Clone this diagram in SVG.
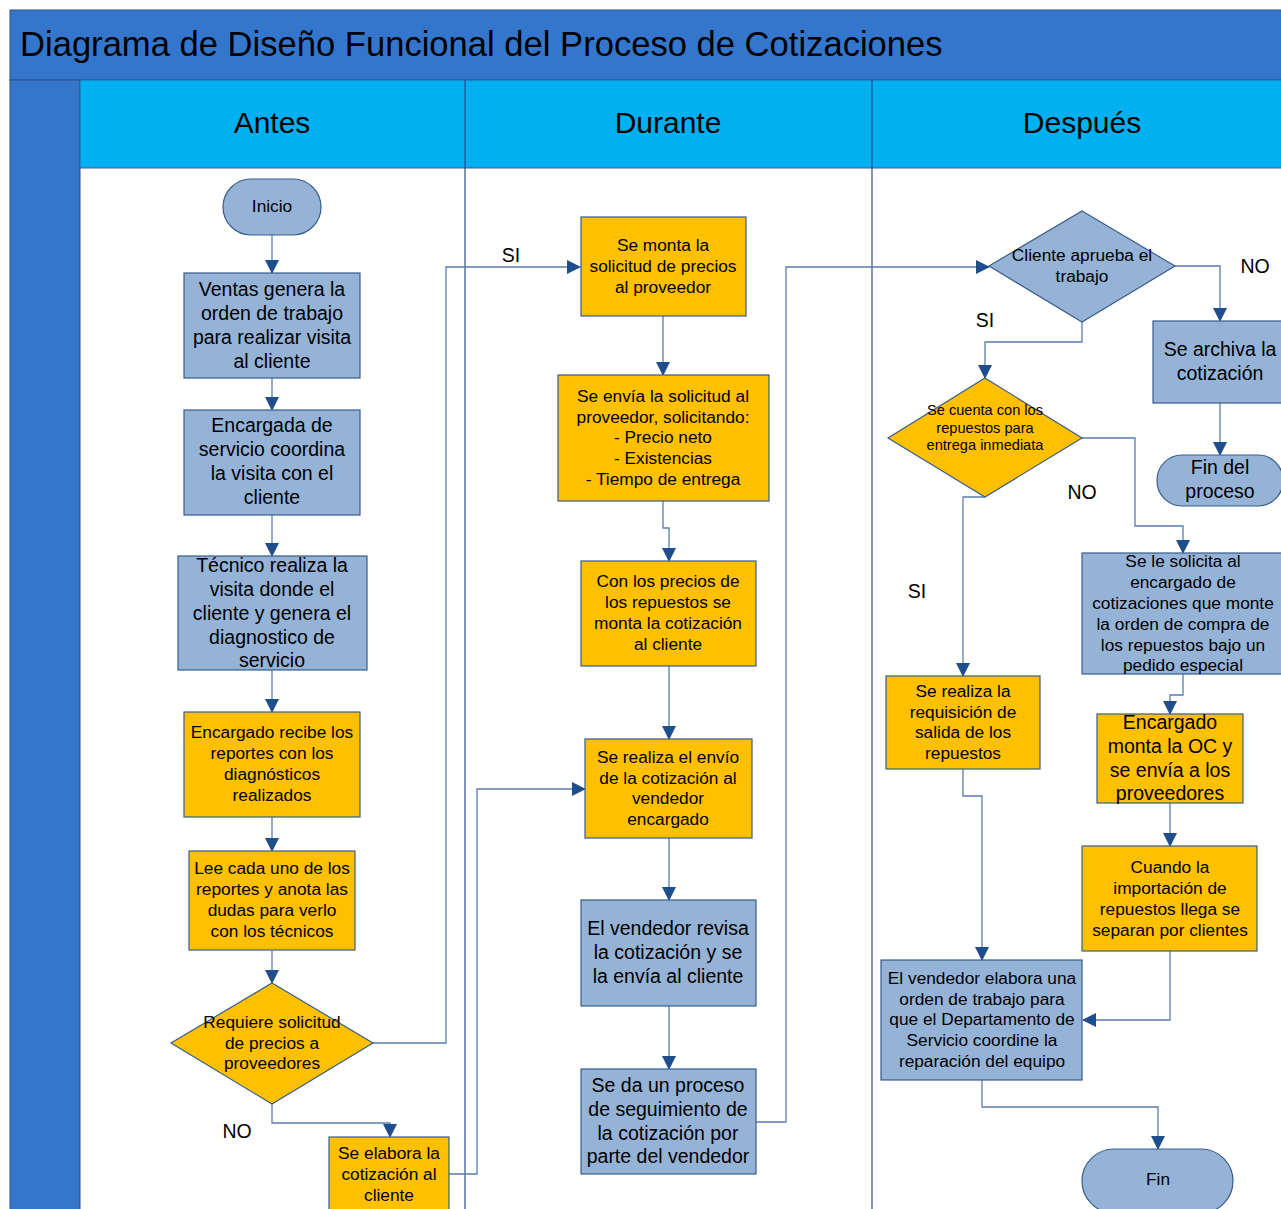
<svg xmlns="http://www.w3.org/2000/svg" width="1281" height="1209" viewBox="0 0 1281 1209">
<style>
text{font-family:"Liberation Sans",Arial,sans-serif;fill:#000;text-anchor:middle}
.t16{font-size:17.3px}.t18{font-size:19.5px}.t13{font-size:14.6px}
.blue{fill:#95b3d7;stroke:#385d8a;stroke-width:1.2}
.org{fill:#ffc000;stroke:#385d8a;stroke-width:1.2}
.c{fill:none;stroke:#5a7eb0;stroke-width:1.3}
.lbl{font-size:19.5px}
.hd{font-size:30px}
</style>
<defs>
<marker id="ah" markerUnits="userSpaceOnUse" markerWidth="14" markerHeight="14" viewBox="0 0 14 14" refX="13" refY="7" orient="auto">
<path d="M0,0 L14,7 L0,14 Z" fill="#1f4e8c"/>
</marker>
</defs>
<rect x="0" y="0" width="1281" height="1209" fill="#fff"/>
<g id="lanes">
<rect x="10" y="10" width="1275" height="70" fill="#3476cc" stroke="#2c4e8a" stroke-width="1"/>
<text x="20" y="56" style="font-size:34.6px;text-anchor:start">Diagrama de Diseño Funcional del Proceso de Cotizaciones</text>
<rect x="10" y="80" width="70" height="1135" fill="#3476cc" stroke="#2c4e8a" stroke-width="1"/>
<rect x="80" y="80" width="1205" height="88" fill="#00b0f0" stroke="#2f5f9a" stroke-width="1"/>
<line x1="465" y1="80" x2="465" y2="1209" stroke="#2c4e8a" stroke-width="1.2"/>
<line x1="872" y1="80" x2="872" y2="1209" stroke="#2c4e8a" stroke-width="1.2"/>
<text class="hd" x="272" y="133">Antes</text>
<text class="hd" x="668" y="133">Durante</text>
<text class="hd" x="1082" y="133">Después</text>
</g>
<g id="connectors">
<path class="c" d="M272,235 V273" marker-end="url(#ah)"/>
<path class="c" d="M272,378 V410" marker-end="url(#ah)"/>
<path class="c" d="M272,515 V556" marker-end="url(#ah)"/>
<path class="c" d="M272,670 V712" marker-end="url(#ah)"/>
<path class="c" d="M272,817 V851" marker-end="url(#ah)"/>
<path class="c" d="M272,950 V983" marker-end="url(#ah)"/>
<path class="c" d="M373,1043 H446 V267 H580" marker-end="url(#ah)"/>
<path class="c" d="M272,1104 V1123 H390 V1137" marker-end="url(#ah)"/>
<path class="c" d="M449,1174 H477 V789 H585" marker-end="url(#ah)"/>
<path class="c" d="M663,316 V375" marker-end="url(#ah)"/>
<path class="c" d="M663,501 V528 H669 V561" marker-end="url(#ah)"/>
<path class="c" d="M669,666 V739" marker-end="url(#ah)"/>
<path class="c" d="M669,838 V900" marker-end="url(#ah)"/>
<path class="c" d="M669,1006 V1069" marker-end="url(#ah)"/>
<path class="c" d="M756,1122 H786 V267 H989" marker-end="url(#ah)"/>
<path class="c" d="M1175,266 H1220 V321" marker-end="url(#ah)"/>
<path class="c" d="M1220,403 V455" marker-end="url(#ah)"/>
<path class="c" d="M1082,322 V342 H985 V378" marker-end="url(#ah)"/>
<path class="c" d="M1082,438 H1135 V526 H1183 V553" marker-end="url(#ah)"/>
<path class="c" d="M985,497 H963 V676" marker-end="url(#ah)"/>
<path class="c" d="M1183,674 V695 H1170 V714" marker-end="url(#ah)"/>
<path class="c" d="M1170,803 V846" marker-end="url(#ah)"/>
<path class="c" d="M1170,951 V1020 H1083" marker-end="url(#ah)"/>
<path class="c" d="M963,769 V796 H982 V960" marker-end="url(#ah)"/>
<path class="c" d="M982,1080 V1107 H1158 V1149" marker-end="url(#ah)"/>
<text class="lbl" x="511" y="262">SI</text>
<text class="lbl" x="237" y="1138">NO</text>
<text class="lbl" x="1255" y="273">NO</text>
<text class="lbl" x="985" y="327">SI</text>
<text class="lbl" x="1082" y="499">NO</text>
<text class="lbl" x="917" y="598">SI</text>
</g>
<g id="inicio"><rect class="blue" x="223" y="179" width="98" height="56" rx="28"/><text class="t16" x="272" y="212">Inicio</text></g>
<g id="ventas"><rect class="blue" x="184" y="273" width="176" height="105"/><text class="t18"><tspan x="272" y="296">Ventas genera la</tspan><tspan x="272" y="320">orden de trabajo</tspan><tspan x="272" y="344">para realizar visita</tspan><tspan x="272" y="368">al cliente</tspan></text></g>
<g id="encargada"><rect class="blue" x="184" y="410" width="176" height="105"/><text class="t18"><tspan x="272" y="432">Encargada de</tspan><tspan x="272" y="456">servicio coordina</tspan><tspan x="272" y="480">la visita con el</tspan><tspan x="272" y="504">cliente</tspan></text></g>
<g id="tecnico"><rect class="blue" x="178" y="556" width="189" height="114"/><text class="t18"><tspan x="272" y="572">Técnico realiza la</tspan><tspan x="272" y="596">visita donde el</tspan><tspan x="272" y="620">cliente y genera el</tspan><tspan x="272" y="644">diagnostico de</tspan><tspan x="272" y="667">servicio</tspan></text></g>
<g id="recibe"><rect class="org" x="184" y="712" width="176" height="105"/><text class="t16"><tspan x="272" y="738">Encargado recibe los</tspan><tspan x="272" y="759">reportes con los</tspan><tspan x="272" y="780">diagnósticos</tspan><tspan x="272" y="801">realizados</tspan></text></g>
<g id="lee"><rect class="org" x="189" y="851" width="166" height="99"/><text class="t16"><tspan x="272" y="874">Lee cada uno de los</tspan><tspan x="272" y="895">reportes y anota las</tspan><tspan x="272" y="916">dudas para verlo</tspan><tspan x="272" y="937">con los técnicos</tspan></text></g>
<g id="requiere"><path class="org" d="M272,983 L373,1043 L272,1104 L171,1043 Z"/><text class="t16"><tspan x="272" y="1028">Requiere solicitud</tspan><tspan x="272" y="1049">de precios a</tspan><tspan x="272" y="1069">proveedores</tspan></text></g>
<g id="elabora"><rect class="org" x="329" y="1137" width="120" height="80"/><text class="t16"><tspan x="389" y="1159">Se elabora la</tspan><tspan x="389" y="1180">cotización al</tspan><tspan x="389" y="1201">cliente</tspan></text></g>
<g id="monta"><rect class="org" x="581" y="217" width="165" height="99"/><text class="t16"><tspan x="663" y="251">Se monta la</tspan><tspan x="663" y="272">solicitud de precios</tspan><tspan x="663" y="293">al proveedor</tspan></text></g>
<g id="envia"><rect class="org" x="558" y="375" width="211" height="126"/><text class="t16"><tspan x="663" y="402">Se envía la solicitud al</tspan><tspan x="663" y="423">proveedor, solicitando:</tspan><tspan x="663" y="443">- Precio neto</tspan><tspan x="663" y="464">- Existencias</tspan><tspan x="663" y="485">- Tiempo de entrega</tspan></text></g>
<g id="precios"><rect class="org" x="581" y="561" width="175" height="105"/><text class="t16"><tspan x="668" y="587">Con los precios de</tspan><tspan x="668" y="608">los repuestos se</tspan><tspan x="668" y="629">monta la cotización</tspan><tspan x="668" y="650">al cliente</tspan></text></g>
<g id="envio"><rect class="org" x="585" y="739" width="167" height="99"/><text class="t16"><tspan x="668" y="763">Se realiza el envío</tspan><tspan x="668" y="784">de la cotización al</tspan><tspan x="668" y="804">vendedor</tspan><tspan x="668" y="825">encargado</tspan></text></g>
<g id="revisa"><rect class="blue" x="581" y="900" width="175" height="106"/><text class="t18"><tspan x="668" y="935">El vendedor revisa</tspan><tspan x="668" y="959">la cotización y se</tspan><tspan x="668" y="983">la envía al cliente</tspan></text></g>
<g id="seguimiento"><rect class="blue" x="581" y="1069" width="175" height="105"/><text class="t18"><tspan x="668" y="1092">Se da un proceso</tspan><tspan x="668" y="1116">de seguimiento de</tspan><tspan x="668" y="1140">la cotización por</tspan><tspan x="668" y="1163">parte del vendedor</tspan></text></g>
<g id="aprueba"><path class="blue" d="M1082,211 L1175,266 L1082,322 L989,266 Z"/><text class="t16"><tspan x="1082" y="261">Cliente aprueba el</tspan><tspan x="1082" y="282">trabajo</tspan></text></g>
<g id="archiva"><rect class="blue" x="1153" y="321" width="135" height="82"/><text class="t18"><tspan x="1220" y="356">Se archiva la</tspan><tspan x="1220" y="380">cotización</tspan></text></g>
<g id="finproceso"><rect class="blue" x="1157" y="455" width="126" height="51" rx="25"/><text class="t18"><tspan x="1220" y="474">Fin del</tspan><tspan x="1220" y="498">proceso</tspan></text></g>
<g id="cuenta"><path class="org" d="M985,378 L1082,438 L985,497 L888,438 Z"/><text class="t13"><tspan x="985" y="415">Se cuenta con los</tspan><tspan x="985" y="433">repuestos para</tspan><tspan x="985" y="450">entrega inmediata</tspan></text></g>
<g id="solicita"><rect class="blue" x="1082" y="553" width="203" height="121"/><text class="t16"><tspan x="1183" y="567">Se le solicita al</tspan><tspan x="1183" y="588">encargado de</tspan><tspan x="1183" y="609">cotizaciones que monte</tspan><tspan x="1183" y="630">la orden de compra de</tspan><tspan x="1183" y="651">los repuestos bajo un</tspan><tspan x="1183" y="671">pedido especial</tspan></text></g>
<g id="montaoc"><rect class="org" x="1097" y="714" width="146" height="89"/><text class="t18"><tspan x="1170" y="729">Encargado</tspan><tspan x="1170" y="753">monta la OC y</tspan><tspan x="1170" y="777">se envía a los</tspan><tspan x="1170" y="800">proveedores</tspan></text></g>
<g id="importacion"><rect class="org" x="1082" y="846" width="175" height="105"/><text class="t16"><tspan x="1170" y="873">Cuando la</tspan><tspan x="1170" y="894">importación de</tspan><tspan x="1170" y="915">repuestos llega se</tspan><tspan x="1170" y="936">separan por clientes</tspan></text></g>
<g id="requisicion"><rect class="org" x="886" y="676" width="154" height="93"/><text class="t16"><tspan x="963" y="697">Se realiza la</tspan><tspan x="963" y="718">requisición de</tspan><tspan x="963" y="738">salida de los</tspan><tspan x="963" y="759">repuestos</tspan></text></g>
<g id="orden"><rect class="blue" x="881" y="960" width="201" height="120"/><text class="t16"><tspan x="982" y="984">El vendedor elabora una</tspan><tspan x="982" y="1005">orden de trabajo para</tspan><tspan x="982" y="1025">que el Departamento de</tspan><tspan x="982" y="1046">Servicio coordine la</tspan><tspan x="982" y="1067">reparación del equipo</tspan></text></g>
<g id="fin"><rect class="blue" x="1082" y="1149" width="151" height="64" rx="32"/><text class="t16" x="1158" y="1185">Fin</text></g>
</svg>
